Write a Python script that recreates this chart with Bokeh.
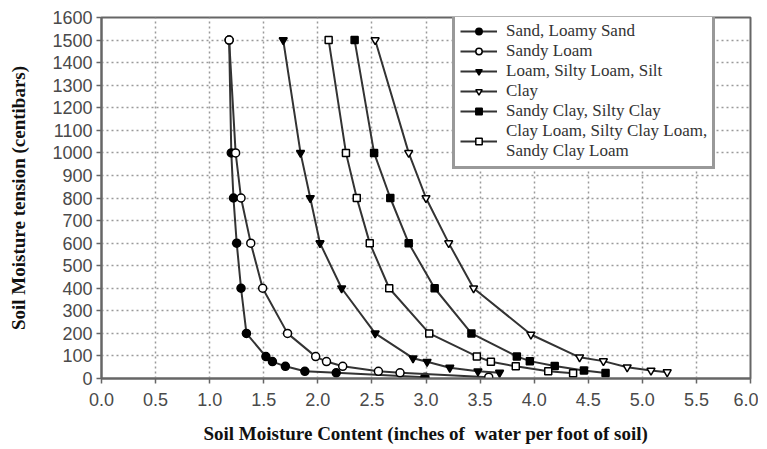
from bokeh.plotting import figure
from bokeh.models import Range1d, FixedTicker, Legend, LegendItem, NumeralTickFormatter
from bokeh.embed import file_html
from bokeh.resources import INLINE

# ---- data ----
sand_x = [1.18, 1.20, 1.22, 1.25, 1.29, 1.34, 1.52, 1.58, 1.70, 1.88, 2.17, 2.99]
sand_y = [1500, 1000, 800, 600, 400, 200, 97, 75, 54, 32, 25, 6]

sandyloam_x = [1.18, 1.24, 1.29, 1.38, 1.49, 1.72, 1.98, 2.08, 2.23, 2.56, 2.76, 3.58]
sandyloam_y = [1500, 1000, 800, 600, 400, 200, 97, 75, 54, 32, 25, 6]

loam_x = [1.68, 1.84, 1.93, 2.02, 2.22, 2.53, 2.88, 3.01, 3.22, 3.48, 3.68]
loam_y = [1500, 1000, 800, 600, 400, 200, 90, 74, 48, 32, 26]

clay_x = [2.53, 2.84, 3.00, 3.21, 3.44, 3.97, 4.42, 4.64, 4.86, 5.08, 5.23]
clay_y = [1500, 1000, 800, 600, 400, 195, 94, 77, 50, 35, 28]

sandyclay_x = [2.34, 2.52, 2.67, 2.84, 3.08, 3.42, 3.84, 3.96, 4.19, 4.46, 4.66]
sandyclay_y = [1500, 1000, 800, 600, 400, 200, 98, 77, 55, 35, 24]

clayloam_x = [2.10, 2.26, 2.36, 2.48, 2.66, 3.03, 3.47, 3.60, 3.83, 4.13, 4.36]
clayloam_y = [1500, 1000, 800, 600, 400, 200, 98, 74, 54, 32, 23]

labels = ["Sand, Loamy Sand", "Sandy Loam", "Loam, Silty Loam, Silt", "Clay",
          "Sandy Clay, Silty Clay", "Clay Loam, Silty Clay Loam,\nSandy Clay Loam"]

x_ticks = [0.0, 0.5, 1.0, 1.5, 2.0, 2.5, 3.0, 3.5, 4.0, 4.5, 5.0, 5.5, 6.0]
y_ticks = list(range(0, 1700, 100))

# ---- figure ----
p = figure(width=758, height=446, output_backend="svg", toolbar_location=None,
           x_range=Range1d(0, 6), y_range=Range1d(0, 1600),
           min_border_left=101, min_border_right=8, min_border_top=17, min_border_bottom=68)
p.background_fill_color = "white"
p.border_fill_color = "white"
p.outline_line_color = "#666666"
p.outline_line_width = 2

for ax in (p.xaxis, p.yaxis):
    ax.axis_line_color = "#666666"
    ax.axis_line_width = 2
    ax.major_tick_line_color = "#666666"
    ax.major_tick_line_width = 1.5
    ax.major_tick_out = 5
    ax.major_tick_in = 0
    ax.minor_tick_line_color = None
    ax.major_label_text_font = "Liberation Sans"
    ax.major_label_text_font_size = "18px"
    ax.major_label_text_color = "#4a4a4a"
    ax.axis_label_text_font = "Liberation Serif"
    ax.axis_label_text_font_style = "bold"
    ax.axis_label_text_font_size = "19px"
    ax.axis_label_text_color = "#111111"

p.xaxis.ticker = FixedTicker(ticks=x_ticks)
p.xaxis.formatter = NumeralTickFormatter(format="0.0")
p.yaxis.ticker = FixedTicker(ticks=y_ticks)
p.xaxis.major_label_standoff = 9
p.yaxis.major_label_standoff = 4
p.xaxis.axis_label = "Soil Moisture Content (inches of\u00a0 water per foot of soil)"
p.yaxis.axis_label = "Soil Moisture tension (centibars)"
p.xaxis.axis_label_standoff = 14
p.yaxis.axis_label_standoff = 20

for g in (p.xgrid, p.ygrid):
    g.grid_line_color = "#9a9a9a"
    g.grid_line_dash = "2 3"
    g.grid_line_width = 1.5
p.xgrid.ticker = FixedTicker(ticks=x_ticks)
p.ygrid.ticker = FixedTicker(ticks=y_ticks)

LINE = "#333333"
series = [
    (sand_x, sand_y, "circle", "black"),
    (sandyloam_x, sandyloam_y, "circle", "white"),
    (loam_x, loam_y, "inverted_triangle", "black"),
    (clay_x, clay_y, "inverted_triangle", "white"),
    (sandyclay_x, sandyclay_y, "square", "black"),
    (clayloam_x, clayloam_y, "square", "white"),
]
items = []
for (xs, ys, mk, fill), lab in zip(series, labels):
    lr = p.line(xs, ys, line_color=LINE, line_width=2)
    sr = p.scatter(xs, ys, marker=mk, size=8 if mk != "square" else 7,
                   fill_color=fill, line_color="black", line_width=1.5)
    items.append(LegendItem(label=lab, renderers=[lr, sr]))

legend = Legend(items=items, location=(351, 209), margin=0,
                border_line_color="#333333", border_line_width=3,
                background_fill_color="white", background_fill_alpha=1.0,
                label_text_font="Liberation Serif", label_text_font_size="17px",
                label_text_color="#333333", label_height=16, glyph_height=16,
                glyph_width=37, spacing=0, padding=5, label_standoff=9)
p.add_layout(legend)

open("out.html", "w").write(file_html(p, INLINE))
